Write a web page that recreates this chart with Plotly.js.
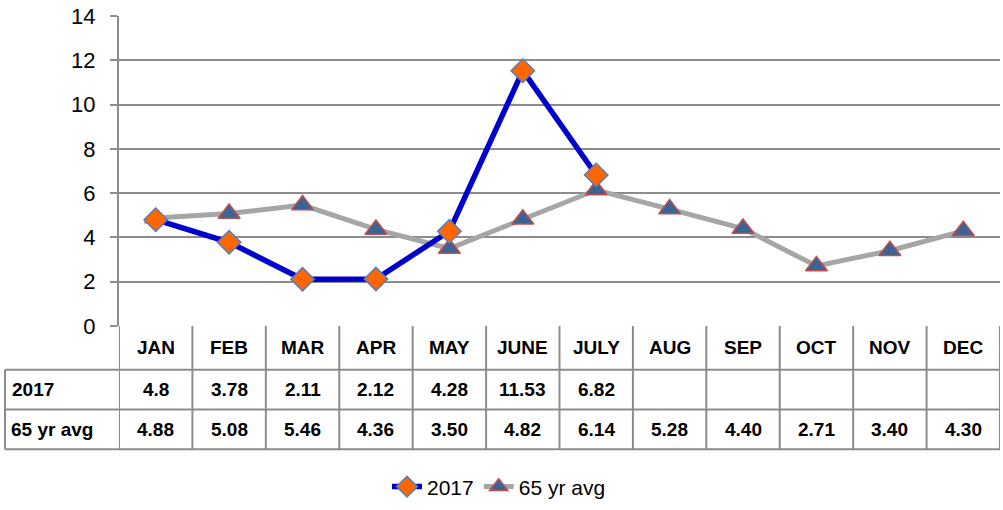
<!DOCTYPE html>
<html>
<head>
<meta charset="utf-8">
<script src="https://cdn.plot.ly/plotly-3.0.1.min.js"></script>
<style>
html,body{margin:0;padding:0;background:#fff;}
#chart{width:1003px;height:510px;}
</style>
</head>
<body>
<div id="chart"></div>
<script>
const months = ["JAN","FEB","MAR","APR","MAY","JUNE","JULY","AUG","SEP","OCT","NOV","DEC"];
const y2017 = [4.8, 3.78, 2.11, 2.12, 4.28, 11.53, 6.82, null, null, null, null, null];
const y2017Labels = ["4.8","3.78","2.11","2.12","4.28","11.53","6.82","","","","",""];
const avg65 = [4.88, 5.08, 5.46, 4.36, 3.50, 4.82, 6.14, 5.28, 4.40, 2.71, 3.40, 4.30];
const avg65Labels = ["4.88","5.08","5.46","4.36","3.50","4.82","6.14","5.28","4.40","2.71","3.40","4.30"];
const seriesNames = ["2017", "65 yr avg"];
const yTicks = [0,2,4,6,8,10,12,14];

const FONT = "Liberation Sans, Arial, sans-serif";
const idx = months.map((m,i)=>i);

const W = 1003, H = 510;
const mL = 119, mR = 3, mT = 16, mB = 182;
const plotW = W - mL - mR, plotH = H - mT - mB;
const py = pix => (H - mB - pix) / plotH;   // pixel y -> paper y
const px = pix => (pix - mL) / plotW;       // pixel x -> paper x

const traces = [
  {
    x: idx, y: avg65, name: seriesNames[1], type: "scatter", mode: "lines+markers",
    line: {color: "#A6A6A6", width: 5},
    marker: {symbol: "triangle-up", size: 19, color: "#3B6496", line: {color: "#C0504D", width: 1.5}},
    legendrank: 2
  },
  {
    x: idx, y: y2017, name: seriesNames[0], type: "scatter", mode: "lines+markers",
    line: {color: "#0000CC", width: 5.5},
    marker: {symbol: "diamond", size: 18, color: "#FF6600", line: {color: "#4F81BD", width: 1.5}},
    legendrank: 1
  }
];

const shapes = [];
const annotations = [];
const lineStyle = {color: "#8C8C8C", width: 2};
const yHead = py(372), yRow1 = py(412), yRow2 = py(452);
for (let i = 0; i <= months.length; i++) {
  shapes.push({type: "line", xref: "x", yref: "paper", x0: i - 0.5, x1: i - 0.5, y0: yRow2, y1: 0, line: lineStyle});
}
shapes.push({type: "line", xref: "paper", yref: "paper", x0: px(5), x1: px(5), y0: yRow2, y1: yHead, line: lineStyle});
[yHead, yRow1, yRow2].forEach(y => {
  shapes.push({type: "line", xref: "paper", yref: "paper", x0: px(5), x1: 1, y0: y, y1: y, line: lineStyle});
});

const cellFont = {family: FONT, size: 19, color: "#000"};
months.forEach((m, i) => {
  annotations.push({xref: "x", yref: "paper", x: i, y: py(350), text: "<b>" + m + "</b>", showarrow: false, font: cellFont, xanchor: "center", yanchor: "middle"});
  annotations.push({xref: "x", yref: "paper", x: i, y: py(392), text: y2017Labels[i] ? "<b>" + y2017Labels[i] + "</b>" : "", showarrow: false, font: cellFont, xanchor: "center", yanchor: "middle"});
  annotations.push({xref: "x", yref: "paper", x: i, y: py(432), text: "<b>" + avg65Labels[i] + "</b>", showarrow: false, font: cellFont, xanchor: "center", yanchor: "middle"});
});
annotations.push({xref: "paper", yref: "paper", x: px(10), y: py(392), text: "<b>" + seriesNames[0] + "</b>", showarrow: false, font: cellFont, xanchor: "left", yanchor: "middle"});
annotations.push({xref: "paper", yref: "paper", x: px(9), y: py(432), text: "<b>" + seriesNames[1] + "</b>", showarrow: false, font: cellFont, xanchor: "left", yanchor: "middle"});

const layout = {
  width: W, height: H,
  margin: {l: mL, r: mR, t: mT, b: mB, pad: 0},
  paper_bgcolor: "#fff", plot_bgcolor: "#fff",
  font: {family: FONT, size: 20, color: "#000"},
  showlegend: true,
  legend: {orientation: "h", x: px(499), xanchor: "center", y: py(490), yanchor: "middle",
           font: {family: FONT, size: 21, color: "#000"}, traceorder: "normal"},
  xaxis: {range: [-0.5, 11.5], showticklabels: false, showgrid: false, zeroline: false, ticks: "", fixedrange: true, showline: false},
  yaxis: {range: [0, 14], tickvals: yTicks, ticktext: yTicks.map(String), showgrid: true, gridcolor: "#8C8C8C", gridwidth: 2,
          zeroline: false, showline: true, linecolor: "#8C8C8C", linewidth: 2, ticks: "outside", ticklen: 7, tickcolor: "#8C8C8C", tickwidth: 2,
          ticklabelstandoff: 10,
          tickfont: {family: FONT, size: 22, color: "#000"}, fixedrange: true},
  shapes: shapes,
  annotations: annotations
};

Plotly.newPlot("chart", traces, layout, {displayModeBar: false, staticPlot: true});
</script>
</body>
</html>
